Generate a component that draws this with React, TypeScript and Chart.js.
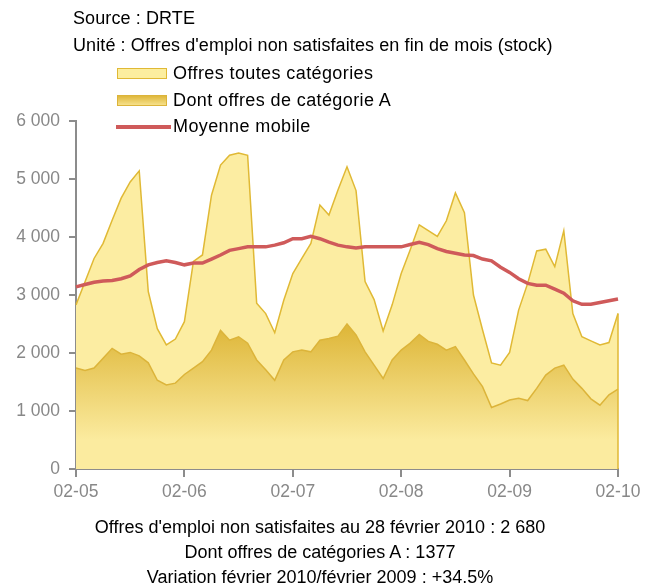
import React, { useEffect, useRef } from "react";
import { Chart, registerables } from "chart.js";

Chart.register(...registerables);

const years = ["05", "06", "07", "08", "09", "10"];
const monthNums = ["01", "02", "03", "04", "05", "06", "07", "08", "09", "10", "11", "12"];

// Feb 2005 .. Feb 2010 (61 months)
const labels: string[] = [];
years.forEach((y) => monthNums.forEach((m) => labels.push(`${m}-${y}`)));
const categories = labels.slice(1, 62);

const toutesCategories = [
  2830, 3230, 3630, 3890, 4290, 4670, 4950, 5140, 3060, 2420, 2140, 2240,
  2540, 3580, 3690, 4720, 5240, 5410, 5450, 5410, 2860, 2680, 2350, 2910,
  3370, 3630, 3890, 4550, 4380, 4810, 5210, 4800, 3230, 2920, 2380, 2830,
  3370, 3780, 4210, 4110, 4010, 4280, 4760, 4420, 3000, 2400, 1830, 1790,
  2010, 2740, 3200, 3760, 3790, 3490, 4110, 2680, 2280, 2210, 2140, 2180,
  2680,
];

const categorieA = [
  1740, 1700, 1740, 1910, 2080, 1980, 2010, 1950, 1830, 1530, 1450, 1480,
  1630, 1740, 1850, 2050, 2390, 2220, 2280, 2170, 1880, 1710, 1530, 1880,
  2020, 2050, 2020, 2220, 2250, 2290, 2500, 2310, 2020, 1790, 1560, 1880,
  2050, 2170, 2320, 2200, 2150, 2050, 2110, 1880, 1640, 1420, 1060, 1120,
  1190, 1220, 1180, 1390, 1620, 1740, 1790, 1550, 1390, 1210, 1100, 1280,
  1377,
];

const moyenneMobile = [
  3140, 3180, 3220, 3240, 3250, 3280, 3330, 3440, 3520, 3560, 3590, 3560,
  3520, 3550, 3550, 3620, 3690, 3770, 3800, 3830, 3830, 3830, 3860, 3900,
  3970, 3970, 4010, 3970, 3910, 3860, 3830, 3810, 3830, 3830, 3830, 3830,
  3830, 3870, 3910, 3870, 3800, 3750, 3720, 3690, 3680, 3620, 3590, 3480,
  3390, 3280, 3200, 3170, 3170, 3100, 3030, 2900, 2840, 2840, 2870, 2900,
  2930,
];

const yTicks = [0, 1000, 2000, 3000, 4000, 5000, 6000];

const headerLines = [
  "Source : DRTE",
  "Unité : Offres d'emploi non satisfaites en fin de mois (stock)",
];
const legendItems = ["Offres toutes catégories", "Dont offres de catégorie A", "Moyenne mobile"];
const footerLines = [
  "Offres d'emploi non satisfaites au 28 février 2010 : 2 680",
  "Dont offres de catégories A : 1377",
  "Variation février 2010/février 2009 : +34.5%",
];

const FONT = "'Liberation Sans', Arial, sans-serif";
const AXIS = "#8c8c8c";

// draws the closing vertical edge of the "toutes catégories" area at its last point
const areaEdgePlugin = {
  id: "areaEdge",
  afterDatasetsDraw(chart: any) {
    const meta = chart.getDatasetMeta(2);
    const pts = meta && meta.data;
    if (!pts || !pts.length) return;
    const last = pts[pts.length - 1];
    const ctx = chart.ctx;
    ctx.save();
    ctx.strokeStyle = "#e0b935";
    ctx.lineWidth = 1.5;
    ctx.beginPath();
    ctx.moveTo(last.x, last.y);
    ctx.lineTo(last.x, chart.scales.y.getPixelForValue(0));
    ctx.stroke();
    ctx.restore();
  },
};

export default function App() {
  const ref = useRef<HTMLCanvasElement | null>(null);

  useEffect(() => {
    if (!ref.current) return;
    const chart = new Chart(ref.current, {
      type: "line",
      data: {
        labels: categories,
        datasets: [
          {
            label: legendItems[2],
            data: moyenneMobile,
            borderColor: "#cf5a5a",
            borderWidth: 3.5,
            pointRadius: 0,
            fill: false,
            tension: 0,
            order: 0,
          },
          {
            label: legendItems[1],
            data: categorieA,
            borderColor: "#dcb43a",
            borderWidth: 1.5,
            pointRadius: 0,
            tension: 0,
            fill: "origin",
            order: 1,
            backgroundColor: (c: any) => {
              const ch = c.chart;
              if (!ch.chartArea) return "#e6c250";
              const ys = ch.scales.y;
              const g = ch.ctx.createLinearGradient(0, ys.getPixelForValue(2400), 0, ys.getPixelForValue(500));
              g.addColorStop(0, "#dfb83c");
              g.addColorStop(1, "#fbeb9f");
              return g;
            },
          },
          {
            label: legendItems[0],
            data: toutesCategories,
            borderColor: "#e0b935",
            borderWidth: 1.5,
            pointRadius: 0,
            tension: 0,
            fill: "origin",
            backgroundColor: "#fceda2",
            order: 2,
          },
        ],
      },
      plugins: [areaEdgePlugin],
      options: {
        responsive: false,
        animation: false,
        devicePixelRatio: 1,
        layout: { padding: { left: 0, right: 36, top: 121, bottom: 76 } },
        plugins: { legend: { display: false }, tooltip: { enabled: false } },
        scales: {
          x: {
            type: "category",
            offset: false,
            afterFit: (s: any) => {
              s.height = 40;
            },
            grid: {
              display: true,
              drawOnChartArea: false,
              drawTicks: true,
              tickLength: 8,
              color: AXIS,
              lineWidth: 2,
            },
            border: { display: true, color: AXIS, width: 2 },
            ticks: {
              autoSkip: false,
              maxRotation: 0,
              minRotation: 0,
              padding: 5,
              color: "#888888",
              font: { family: FONT, size: 17.5 },
              callback: (_v: any, i: number) => (i % 12 === 0 ? categories[i] : null),
            },
          },
          y: {
            min: 0,
            max: 6000,
            afterFit: (s: any) => {
              s.width = 76;
            },
            afterBuildTicks: (s: any) => {
              s.ticks = yTicks.map((v) => ({ value: v }));
            },
            grid: {
              display: true,
              drawOnChartArea: false,
              drawTicks: true,
              tickLength: 7,
              color: AXIS,
              lineWidth: 2,
            },
            border: { display: true, color: AXIS, width: 2 },
            ticks: {
              padding: 9,
              color: "#888888",
              font: { family: FONT, size: 17.5 },
              callback: (v: any) => (v === 0 ? "0" : `${Math.round(v / 1000)} 000`),
            },
          },
        },
      },
    });
    return () => chart.destroy();
  }, []);

  const textStyle: React.CSSProperties = {
    position: "absolute",
    fontFamily: FONT,
    fontSize: 18,
    color: "#000",
    whiteSpace: "nowrap",
    lineHeight: "20px",
  };

  return (
    <div style={{ position: "absolute", left: 0, top: 0, width: 654, height: 585, background: "#fff", overflow: "hidden" }}>
      <canvas ref={ref} width={654} height={585} style={{ position: "absolute", left: 0, top: 0, width: 654, height: 585 }} />
      <div style={{ ...textStyle, left: 73, top: 8, letterSpacing: 0.1 }}>{headerLines[0]}</div>
      <div style={{ ...textStyle, left: 73, top: 35, letterSpacing: 0.1 }}>{headerLines[1]}</div>

      <div style={{ position: "absolute", left: 117, top: 68, width: 48, height: 9, border: "1.5px solid #e0b935", background: "#fcee9f" }} />
      <div style={{ ...textStyle, left: 173, top: 63, letterSpacing: 0.4 }}>{legendItems[0]}</div>
      <div
        style={{
          position: "absolute",
          left: 117,
          top: 95,
          width: 48,
          height: 9,
          border: "1.5px solid #dcb43a",
          background: "linear-gradient(#dfb83c, #f6e08a)",
        }}
      />
      <div style={{ ...textStyle, left: 173, top: 90, letterSpacing: 0.4 }}>{legendItems[1]}</div>
      <div style={{ position: "absolute", left: 116, top: 125, width: 55, height: 3.5, background: "#cf5a5a" }} />
      <div style={{ ...textStyle, left: 173, top: 116, letterSpacing: 0.4 }}>{legendItems[2]}</div>

      {footerLines.map((t, i) => (
        <div key={i} style={{ ...textStyle, left: 0, width: 640, textAlign: "center", top: 517 + i * 25 }}>
          {t}
        </div>
      ))}
    </div>
  );
}
